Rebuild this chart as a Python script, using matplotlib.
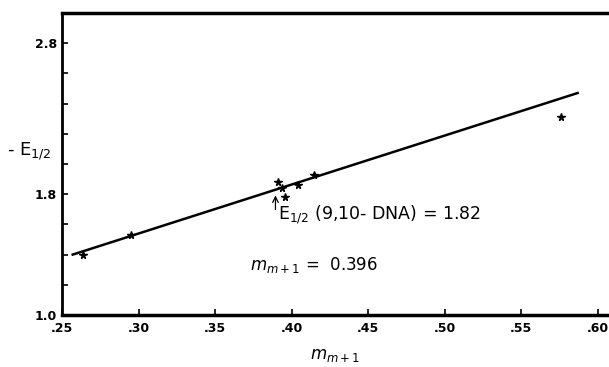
import matplotlib
matplotlib.use('Agg')
import matplotlib.pyplot as plt

# measured points (m_{m+1}, -E1/2)
m_vals = [0.264, 0.295, 0.391, 0.394, 0.396, 0.404, 0.415, 0.576]
e_vals = [1.40, 1.53, 1.88, 1.84, 1.78, 1.86, 1.93, 2.31]

# fitted line end points
fit_x = [0.257, 0.587]
fit_y = [1.40, 2.47]

xticks = [0.25, 0.30, 0.35, 0.40, 0.45, 0.50, 0.55, 0.60]
xtick_labels = ['.25', '.30', '.35', '.40', '.45', '.50', '.55', '.60']
yticks = [1.0, 1.2, 1.4, 1.6, 1.8, 2.0, 2.2, 2.4, 2.6, 2.8]
ytick_labels = ['1.0', '', '', '', '1.8', '', '', '', '', '2.8']

dna_m = 0.391
dna_e = 1.82

fig = plt.figure(figsize=(6.09, 3.67), dpi=100)
ax = fig.add_axes([0.1018, 0.1417, 0.8982, 0.8229])

ax.plot(fit_x, fit_y, color='black', linewidth=1.8)
ax.plot(m_vals, e_vals, linestyle='none', marker='*', color='black',
        markersize=5.5)

ax.set_xlim(0.25, 0.6075)
ax.set_ylim(1.0, 3.0)
ax.set_xticks(xticks)
ax.set_xticklabels(xtick_labels, fontsize=9, fontweight='bold')
ax.set_yticks(yticks)
ax.set_yticklabels(ytick_labels, fontsize=9, fontweight='bold')
ax.tick_params(direction='in', length=4, width=1.2, colors='black')
ax.tick_params(axis='x', pad=5)

for side in ['top', 'bottom']:
    ax.spines[side].set_linewidth(2.5)
ax.spines['left'].set_linewidth(2)
ax.spines['right'].set_visible(False)

# arrow marking E1/2 of 9,10-DNA
ax.annotate('', xy=(dna_m - 0.0015, dna_e - 0.01), xytext=(dna_m - 0.0015, dna_e - 0.14),
            arrowprops=dict(arrowstyle='->', color='black', lw=0.9))
ax.text(dna_m, dna_e - 0.08, r'E$_{1/2}$ (9,10- DNA) = 1.82',
        fontsize=12.5, va='top', ha='left')
ax.text(0.373, 1.33, r'$m_{m+1}$ =  0.396', fontsize=12, va='center', ha='left')

ax.set_ylabel(r'- E$_{1/2}$', fontsize=13, rotation=0)
ax.yaxis.set_label_coords(-0.06, 0.505)
ax.set_xlabel(r'$m_{m+1}$', fontsize=12, labelpad=8)

fig.savefig('out.png', dpi=100)
